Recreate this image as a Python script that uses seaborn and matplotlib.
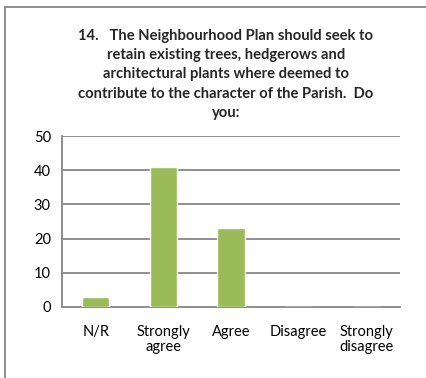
import matplotlib
matplotlib.use("Agg")
import matplotlib.pyplot as plt
import seaborn as sns
import pandas as pd

categories = ["N/R", "Strongly\nagree", "Agree", "Disagree", "Strongly\ndisagree"]
responses = [3, 41, 23, 0, 0]
y_ticks = [0, 10, 20, 30, 40, 50]
title = ("14.   The Neighbourhood Plan should seek to\n"
         "retain existing trees, hedgerows and\n"
         "architectural plants where deemed to\n"
         "contribute to the character of the Parish.  Do\n"
         "you:")

df = pd.DataFrame({"answer": categories, "count": responses})

sns.set_style("white")
plt.rcParams["font.family"] = ["Lato", "DejaVu Sans"]

fig = plt.figure(figsize=(4.27, 3.78), dpi=100)
ax = fig.add_axes([62 / 427, 1 - 307 / 378, (400 - 62) / 427, (307 - 136) / 378])

sns.barplot(data=df, x="answer", y="count", color="#9BBB59", width=0.4,
            saturation=1, ax=ax, zorder=3)

grid_col = "#868686"
ax.set_ylim(0, 50)
ax.set_xlim(-0.5, len(categories) - 0.5)
ax.set_yticks(y_ticks)
ax.set_yticklabels([str(v) for v in y_ticks], fontsize=10.5, color="#000000")
for v in y_ticks[1:]:
    ax.axhline(v, color=grid_col, lw=1.3, zorder=1)
ax.set_xticks([i - 0.5 for i in range(len(categories) + 1)], minor=True)
ax.set_xticks(range(len(categories)))
ax.set_xticklabels(categories, fontsize=10.5, color="#000000", linespacing=1.05)
ax.tick_params(axis="x", which="major", length=0, pad=13)
ax.tick_params(axis="x", which="minor", length=5, width=1.3, color=grid_col, direction="out")
ax.tick_params(axis="y", length=4, width=1.3, color=grid_col, direction="out", pad=4)
ax.set_xlabel("")
ax.set_ylabel("")
for side in ["top", "right"]:
    ax.spines[side].set_visible(False)
for side in ["left", "bottom"]:
    ax.spines[side].set_color(grid_col)
    ax.spines[side].set_linewidth(1.3)

fig.text(226 / 427, 1 - 29 / 378, title, ha="center", va="top",
         fontsize=10.6, fontweight="bold", linespacing=1.47)

# outer chart frame
fig.add_artist(plt.Line2D([5 / 427, 5 / 427], [0, 1 - 7 / 378], color=grid_col, lw=1.3))
fig.add_artist(plt.Line2D([5 / 427, 1], [1 - 7 / 378, 1 - 7 / 378], color=grid_col, lw=1.3))

fig.savefig("out.png", dpi=100)
